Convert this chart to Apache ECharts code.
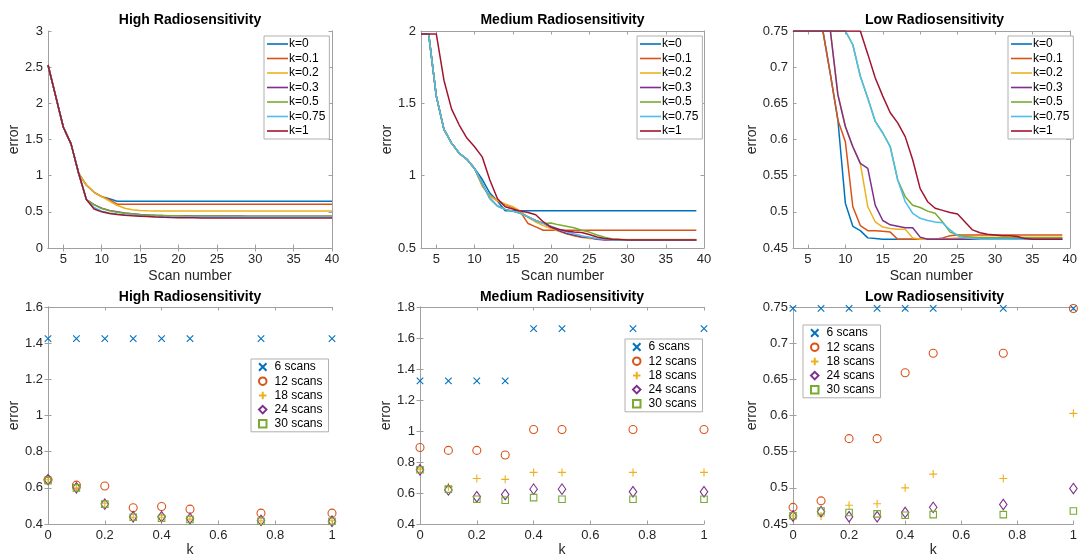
<!DOCTYPE html>
<html>
<head>
<meta charset="utf-8">
<script src="https://cdn.jsdelivr.net/npm/echarts@6/dist/echarts.min.js"></script>
<style>
html,body{margin:0;padding:0;background:#fff;}
#chart{width:1080px;height:558px;}
</style>
</head>
<body>
<div id="chart"></div>
<script>
// ---------- DATA ----------
const kNames = ['k=0','k=0.1','k=0.2','k=0.3','k=0.5','k=0.75','k=1'];
const scanNames = ['6 scans','12 scans','18 scans','24 scans','30 scans'];
const titles = ['High Radiosensitivity','Medium Radiosensitivity','Low Radiosensitivity'];
const xScan40 = [3,4,5,6,7,8,9,10,11,12,13,14,15,16,17,18,19,20,21,22,23,24,25,26,27,28,29,30,31,32,33,34,35,36,37,38,39,40];
const xScan39 = [3,4,5,6,7,8,9,10,11,12,13,14,15,16,17,18,19,20,21,22,23,24,25,26,27,28,29,30,31,32,33,34,35,36,37,38,39];
const kValues = [0,0.1,0.2,0.3,0.4,0.5,0.75,1];
const scanTicks = [5,10,15,20,25,30,35,40];

// High radiosensitivity, error vs scan number (x = 3..40)
const highK0 = [2.53,2.10,1.67,1.44,1.03,0.87,0.77,0.71,0.68,0.647,
  0.647,0.647,0.647,0.647,0.647,0.647,0.647,0.647,0.647,0.647,
  0.647,0.647,0.647,0.647,0.647,0.647,0.647,0.647,0.647,0.647,
  0.647,0.647,0.647,0.647,0.647,0.647,0.647,0.647];
const highK01 = [2.53,2.10,1.67,1.44,1.03,0.87,0.77,0.71,0.67,0.605,
  0.605,0.605,0.605,0.605,0.605,0.605,0.605,0.605,0.605,0.605,
  0.605,0.605,0.605,0.605,0.605,0.605,0.605,0.605,0.605,0.605,
  0.605,0.605,0.605,0.605,0.605,0.605,0.605,0.605];
const highK02 = [2.53,2.10,1.67,1.44,1.03,0.87,0.77,0.71,0.65,0.59,
  0.55,0.53,0.52,0.515,0.512,0.512,0.512,0.512,0.512,0.512,
  0.512,0.512,0.512,0.512,0.512,0.512,0.512,0.512,0.512,0.512,
  0.512,0.512,0.512,0.512,0.512,0.512,0.512,0.512];
const highK03 = [2.53,2.10,1.67,1.44,1.03,0.67,0.60,0.55,0.52,0.50,
  0.485,0.472,0.462,0.456,0.452,0.449,0.447,0.446,0.445,0.444,
  0.443,0.443,0.442,0.442,0.441,0.441,0.440,0.440,0.440,0.440,
  0.440,0.440,0.440,0.440,0.440,0.440,0.440,0.440];
const highK05 = [2.53,2.10,1.67,1.44,1.03,0.67,0.60,0.545,0.515,0.495,
  0.48,0.47,0.46,0.455,0.45,0.448,0.446,0.445,0.444,0.443,
  0.442,0.442,0.441,0.441,0.440,0.440,0.440,0.439,0.439,0.439,
  0.439,0.439,0.439,0.439,0.439,0.439,0.439,0.439];
const highK075 = [2.53,2.10,1.67,1.44,1.03,0.67,0.56,0.51,0.485,0.47,
  0.46,0.452,0.446,0.44,0.436,0.433,0.431,0.430,0.429,0.428,
  0.428,0.428,0.428,0.428,0.428,0.428,0.428,0.428,0.428,0.428,
  0.428,0.428,0.428,0.428,0.428,0.428,0.428,0.428];
const highK1 = [2.53,2.10,1.67,1.44,1.03,0.67,0.54,0.50,0.478,0.462,
  0.453,0.446,0.44,0.434,0.428,0.424,0.421,0.419,0.418,0.417,
  0.416,0.416,0.415,0.415,0.415,0.415,0.415,0.415,0.415,0.415,
  0.415,0.415,0.415,0.415,0.415,0.415,0.415,0.415];

// Medium radiosensitivity (x = 3..39)
const medK0 = [1.98,1.98,1.55,1.32,1.225,1.155,1.113,1.05,0.975,0.88,
  0.825,0.757,0.757,0.757,0.757,0.757,0.757,0.757,0.757,0.757,
  0.757,0.757,0.757,0.757,0.757,0.757,0.757,0.757,0.757,0.757,
  0.757,0.757,0.757,0.757,0.757,0.757,0.757];
const medK01 = [1.98,1.98,1.55,1.32,1.225,1.155,1.113,1.05,0.93,0.86,
  0.825,0.80,0.78,0.75,0.669,0.646,0.623,0.623,0.623,0.623,
  0.623,0.623,0.623,0.623,0.623,0.623,0.623,0.623,0.623,0.623,
  0.623,0.623,0.623,0.623,0.623,0.623,0.623];
const medK02 = [1.98,1.98,1.55,1.32,1.225,1.155,1.113,1.05,0.93,0.86,
  0.828,0.805,0.785,0.755,0.71,0.68,0.655,0.635,0.615,0.598,
  0.583,0.572,0.566,0.563,0.561,0.56,0.559,0.559,0.559,0.559,
  0.559,0.559,0.559,0.559,0.559,0.559,0.559];
const medK03 = [1.98,1.98,1.55,1.32,1.225,1.155,1.113,1.05,0.947,0.843,
  0.79,0.767,0.755,0.74,0.715,0.69,0.67,0.645,0.62,0.60,
  0.588,0.576,0.572,0.56,0.556,0.555,0.555,0.555,0.555,0.555,
  0.555,0.555,0.555,0.555,0.555,0.555,0.555];
const medK05 = [1.98,1.98,1.55,1.32,1.225,1.155,1.113,1.05,0.947,0.843,
  0.79,0.767,0.755,0.74,0.715,0.69,0.67,0.673,0.66,0.65,
  0.64,0.623,0.61,0.59,0.575,0.563,0.558,0.556,0.556,0.556,
  0.556,0.556,0.556,0.556,0.556,0.556,0.556];
const medK075 = [1.98,1.98,1.55,1.32,1.225,1.155,1.113,1.05,0.947,0.843,
  0.79,0.767,0.755,0.74,0.715,0.69,0.67,0.65,0.63,0.612,
  0.598,0.585,0.575,0.566,0.56,0.557,0.556,0.556,0.556,0.556,
  0.556,0.556,0.556,0.556,0.556,0.556,0.556];
const medK1 = [1.98,1.98,1.98,1.66,1.46,1.35,1.26,1.20,1.13,0.97,
  0.84,0.785,0.77,0.755,0.745,0.73,0.68,0.645,0.63,0.617,
  0.61,0.607,0.593,0.576,0.565,0.56,0.558,0.556,0.556,0.556,
  0.556,0.556,0.556,0.556,0.556,0.556,0.556];

// Low radiosensitivity (x = 3..39)
const lowK0 = [0.75,0.75,0.75,0.75,0.75,0.69,0.627,0.512,0.48,0.474,
  0.464,0.463,0.462,0.462,0.462,0.462,0.462,0.462,0.462,0.462,
  0.462,0.462,0.462,0.462,0.462,0.462,0.462,0.462,0.462,0.462,
  0.462,0.462,0.462,0.462,0.462,0.462,0.462];
const lowK01 = [0.75,0.75,0.75,0.75,0.75,0.69,0.627,0.597,0.507,0.481,
  0.474,0.474,0.473,0.472,0.462,0.462,0.462,0.462,0.462,0.462,
  0.464,0.467,0.468,0.468,0.468,0.468,0.468,0.468,0.468,0.468,
  0.468,0.468,0.468,0.468,0.468,0.468,0.468];
const lowK02 = [0.75,0.75,0.75,0.75,0.75,0.75,0.662,0.618,0.59,0.567,
  0.507,0.486,0.479,0.477,0.476,0.476,0.464,0.462,0.462,0.462,
  0.462,0.463,0.464,0.465,0.465,0.465,0.465,0.465,0.465,0.465,
  0.465,0.465,0.465,0.465,0.465,0.465,0.465];
const lowK03 = [0.75,0.75,0.75,0.75,0.75,0.75,0.662,0.618,0.59,0.567,
  0.56,0.509,0.488,0.482,0.48,0.478,0.478,0.465,0.462,0.462,
  0.462,0.462,0.462,0.462,0.462,0.462,0.462,0.462,0.462,0.462,
  0.463,0.463,0.463,0.463,0.463,0.463,0.463];
const lowK05 = [0.75,0.75,0.75,0.75,0.75,0.75,0.75,0.75,0.731,0.6875,
  0.657,0.625,0.609,0.59,0.544,0.521,0.509,0.506,0.501,0.498,
  0.486,0.472,0.468,0.466,0.465,0.464,0.464,0.464,0.464,0.464,
  0.464,0.464,0.464,0.464,0.464,0.464,0.464];
const lowK075 = [0.75,0.75,0.75,0.75,0.75,0.75,0.75,0.75,0.731,0.6875,
  0.657,0.625,0.609,0.59,0.544,0.514,0.498,0.491,0.488,0.486,
  0.485,0.475,0.467,0.464,0.463,0.462,0.462,0.462,0.462,0.462,
  0.462,0.462,0.462,0.462,0.462,0.462,0.462];
const lowK1 = [0.75,0.75,0.75,0.75,0.75,0.75,0.75,0.75,0.75,0.75,
  0.718,0.685,0.66,0.637,0.623,0.604,0.572,0.532,0.514,0.505,
  0.502,0.499,0.497,0.486,0.475,0.471,0.469,0.468,0.467,0.467,
  0.466,0.463,0.462,0.462,0.462,0.462,0.462];

// error vs k for given number of scans
const highScan6  = [1.425,1.425,1.425,1.425,1.425,1.425,1.425,1.425];
const highScan12 = [0.645,0.615,0.61,0.49,0.497,0.482,0.46,0.46];
const highScan18 = [0.645,0.60,0.515,0.437,0.437,0.427,0.418,0.418];
const highScan24 = [0.645,0.60,0.51,0.44,0.44,0.43,0.42,0.415];
const highScan30 = [0.64,0.60,0.51,0.437,0.432,0.425,0.415,0.415];

const medScan6  = [1.323,1.323,1.323,1.323,1.66,1.66,1.66,1.66];
const medScan12 = [0.894,0.875,0.875,0.845,1.01,1.01,1.01,1.01];
const medScan18 = [0.754,0.64,0.694,0.688,0.733,0.733,0.733,0.733];
const medScan24 = [0.75,0.62,0.576,0.59,0.625,0.625,0.608,0.608];
const medScan30 = [0.75,0.625,0.56,0.553,0.57,0.56,0.56,0.56];

const lowScan6  = [0.748,0.748,0.748,0.748,0.748,0.748,0.748,0.748];
const lowScan12 = [0.473,0.482,0.568,0.568,0.659,0.686,0.686,0.748];
const lowScan18 = [0.461,0.461,0.476,0.478,0.50,0.519,0.513,0.603];
const lowScan24 = [0.461,0.467,0.46,0.46,0.466,0.473,0.477,0.499];
const lowScan30 = [0.4615,0.468,0.466,0.464,0.462,0.463,0.463,0.468];

// ---------- STYLE / LAYOUT ----------
const colors = ['#0072BD','#D95319','#EDB120','#7E2F8E','#77AC30','#4DBEEE','#A2142F'];
const FONT = '"Liberation Sans", Arial, Helvetica, sans-serif';
const AXIS_COLOR = '#a0a0a0';
const TEXT_COLOR = '#262626';

const grids = [
  {left:48, top:31, width:284, height:217},
  {left:421, top:31, width:283, height:217},
  {left:793, top:31, width:283, height:217},
  {left:48, top:307, width:284, height:217},
  {left:420, top:307, width:284, height:217},
  {left:793, top:307, width:283, height:217}
];
const yRanges = [[0,3,0.5],[0.5,2,0.5],[0.45,0.75,0.05],[0.4,1.6,0.2],[0.4,1.8,0.2],[0.45,0.75,0.05]];
const yNameGaps = [22,24,31,22,23,31];

const xAxes = [], yAxes = [];
grids.forEach((g, i) => {
  const isTop = i < 3;
  const base = {
    gridIndex: i,
    type: 'value',
    axisLine: {show: true, lineStyle: {color: AXIS_COLOR, width: 1}},
    axisTick: {show: true, inside: true, length: 3.5, lineStyle: {color: AXIS_COLOR}},
    splitLine: {show: false},
  };
  const xb = isTop
    ? {min: 3, max: 40}
    : {min: 0, max: 1, interval: 0.2};
  const tickCustom = isTop ? {customValues: scanTicks} : {};
  xAxes.push(Object.assign({}, base, xb, {
    position: 'bottom',
    name: isTop ? 'Scan number' : 'k',
    nameLocation: 'middle',
    nameGap: isTop ? 21 : 18,
    nameTextStyle: {fontFamily: FONT, fontSize: 14, color: TEXT_COLOR},
    axisTick: Object.assign({}, base.axisTick, tickCustom),
    axisLabel: Object.assign({show: true, margin: 5, fontFamily: FONT, fontSize: 13, color: TEXT_COLOR}, tickCustom)
  }));
  xAxes.push(Object.assign({}, base, xb, {
    position: 'top',
    axisTick: Object.assign({}, base.axisTick, tickCustom),
    axisLabel: {show: false}
  }));
  const yr = yRanges[i];
  yAxes.push(Object.assign({}, base, {
    min: yr[0], max: yr[1], interval: yr[2],
    position: 'left',
    name: 'error',
    nameLocation: 'middle',
    nameGap: yNameGaps[i],
    nameTextStyle: {fontFamily: FONT, fontSize: 14, color: TEXT_COLOR},
    axisLabel: {show: true, margin: 5, fontFamily: FONT, fontSize: 13, color: TEXT_COLOR}
  }));
  yAxes.push(Object.assign({}, base, {
    min: yr[0], max: yr[1], interval: yr[2],
    position: 'right',
    axisLabel: {show: false}
  }));
});

const series = [];
function addLines(xs, ysList, gi) {
  ysList.forEach((ys, i) => {
    series.push({
      type: 'line', name: kNames[i],
      xAxisIndex: gi*2, yAxisIndex: gi*2,
      data: xs.map((x, j) => [x, ys[j]]),
      symbol: 'none', showSymbol: false,
      lineStyle: {width: 1.5, color: colors[i]},
      itemStyle: {color: colors[i]},
      z: 2 + i
    });
  });
}
addLines(xScan40, [highK0,highK01,highK02,highK03,highK05,highK075,highK1], 0);
addLines(xScan39, [medK0,medK01,medK02,medK03,medK05,medK075,medK1], 1);
addLines(xScan39, [lowK0,lowK01,lowK02,lowK03,lowK05,lowK075,lowK1], 2);

const scanSymbols = [
  {symbol: 'path://M0,0L10,10M10,0L0,10', size: 6.5},
  {symbol: 'circle', size: 8},
  {symbol: 'path://M5,0L5,10M0,5L10,5', size: 8},
  {symbol: 'diamond', size: [7.5, 10.5]},
  {symbol: 'rect', size: 6.5}
];
function addScatter(ysList, gi) {
  ysList.forEach((ys, i) => {
    const s = scanSymbols[i];
    series.push({
      type: 'scatter', name: scanNames[i],
      xAxisIndex: gi*2, yAxisIndex: gi*2,
      data: kValues.map((x, j) => [x, ys[j]]),
      symbol: s.symbol, symbolSize: s.size,
      itemStyle: {color: 'rgba(255,255,255,0)', borderColor: colors[i], borderWidth: 1.1, opacity: 1},
      emphasis: {disabled: true},
      z: 2 + i
    });
  });
}
addScatter([highScan6,highScan12,highScan18,highScan24,highScan30], 3);
addScatter([medScan6,medScan12,medScan18,medScan24,medScan30], 4);
addScatter([lowScan6,lowScan12,lowScan18,lowScan24,lowScan30], 5);

const titleCfg = grids.map((g, i) => ({
  text: titles[i % 3],
  left: g.left + g.width/2,
  top: i < 3 ? 13 : 290,
  textAlign: 'center',
  padding: 0,
  textStyle: {fontFamily: FONT, fontSize: 14, fontWeight: 'bold', color: '#000'}
}));

const lineLegendPos = [[264,36],[637,36],[1008,36]];
const scatLegendPos = [[251,359],[625,339],[803,325]];
const legends = [];
lineLegendPos.forEach(p => legends.push({
  data: kNames.map(n => ({name: n, icon: 'rect'})),
  orient: 'vertical', left: p[0], top: p[1],
  itemWidth: 21, itemHeight: 1.6, itemGap: 2.5,
  padding: [2, 4, 2, 3],
  borderColor: '#b0b0b0', borderWidth: 1, backgroundColor: '#fff',
  selectedMode: false,
  textStyle: {fontFamily: FONT, fontSize: 12, lineHeight: 12, color: '#000', padding: [0,0,0,-4]}
}));
scatLegendPos.forEach(p => legends.push({
  data: scanNames, orient: 'vertical', left: p[0], top: p[1],
  itemWidth: 7.5, itemHeight: 7.5, itemGap: 2.2,
  padding: [2, 6, 2, 7],
  borderColor: '#b0b0b0', borderWidth: 1, backgroundColor: '#fff',
  selectedMode: false,
  textStyle: {fontFamily: FONT, fontSize: 12, lineHeight: 12, color: '#000', padding: [0,0,0,3]}
}));

const chart = echarts.init(document.getElementById('chart'), null, {renderer: 'canvas'});
chart.setOption({
  animation: false,
  backgroundColor: '#fff',
  title: titleCfg,
  legend: legends,
  grid: grids.map(g => Object.assign({show: false, containLabel: false}, g)),
  xAxis: xAxes,
  yAxis: yAxes,
  series: series
});
</script>
</body>
</html>
